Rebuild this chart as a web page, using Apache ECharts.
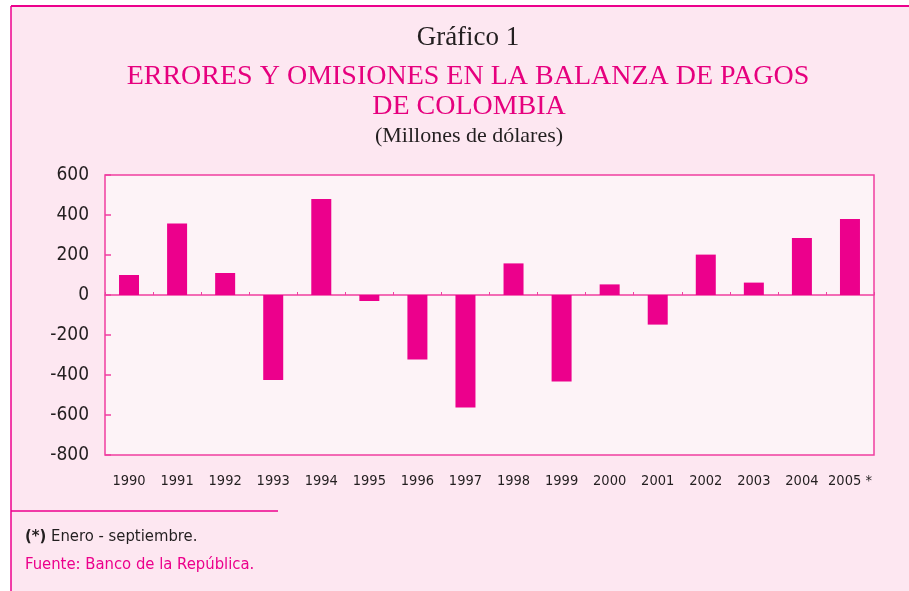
<!DOCTYPE html>
<html lang="es">
<head>
    <meta charset="UTF-8">
    <title>Errores y omisiones</title>
    <script src="https://cdn.jsdelivr.net/npm/echarts@6/dist/echarts.min.js"></script>
    <style>
        html, body { margin: 0; padding: 0; background: #ffffff; }
        #main { width: 909px; height: 591px; }
    </style>
</head>
<body>
<div id="main"></div>
<script>
    // datos del gráfico
    var years = ['1990', '1991', '1992', '1993', '1994', '1995', '1996', '1997',
                 '1998', '1999', '2000', '2001', '2002', '2003', '2004', '2005 *'];
    var values = [100, 358, 110, -425, 480, -30, -323, -563,
                  158, -432, 53, -148, 202, 62, 285, 380];
    var yMin = -800, yMax = 600, yStep = 200;

    var pink = '#ec008c';
    var lineColor = '#ef3fa0';
    var narrow = '"Liberation Sans Narrow", "DejaVu Sans Condensed", sans-serif';
    var serif = '"Liberation Serif", "DejaVu Serif", serif';

    var myChart = echarts.init(document.getElementById('main'));

    var option = {
        animation: false,
        backgroundColor: '#ffffff',
        graphic: [
            // fondo del recuadro
            { type: 'rect', z: -10, shape: { x: 11, y: 6, width: 898, height: 585 }, style: { fill: '#fde7f1' } },
            { type: 'line', z: -9, shape: { x1: 11, y1: 6, x2: 909, y2: 6 }, style: { stroke: pink, lineWidth: 2 } },
            { type: 'line', z: -9, shape: { x1: 11, y1: 6, x2: 11, y2: 591 }, style: { stroke: pink, lineWidth: 1.5 } },
            { type: 'line', z: -9, shape: { x1: 11, y1: 511, x2: 278, y2: 511 }, style: { stroke: pink, lineWidth: 1.5 } },
            // títulos
            { type: 'text', x: 468, y: 38, style: { text: 'Gráfico 1', font: '27px ' + serif, fill: '#231f20', align: 'center', verticalAlign: 'middle' } },
            { type: 'text', x: 468, y: 77, style: { text: 'ERRORES Y OMISIONES EN LA BALANZA DE PAGOS', font: '28px ' + serif, fill: '#e6007e', align: 'center', verticalAlign: 'middle' } },
            { type: 'text', x: 469, y: 107, style: { text: 'DE COLOMBIA', font: '28px ' + serif, fill: '#e6007e', align: 'center', verticalAlign: 'middle' } },
            { type: 'text', x: 469, y: 136, style: { text: '(Millones de dólares)', font: '22px ' + serif, fill: '#231f20', align: 'center', verticalAlign: 'middle' } },
            // notas
            {
                type: 'text', x: 25, y: 537,
                style: {
                    text: '{b|(*)} Enero - septiembre.',
                    font: '16.5px ' + narrow, fill: '#231f20', verticalAlign: 'middle',
                    rich: { b: { fontWeight: 'bold', fontSize: 16.5, fontFamily: narrow, fill: '#231f20' } }
                }
            },
            { type: 'text', x: 25, y: 565, style: { text: 'Fuente: Banco de la República.', font: '16.5px ' + narrow, fill: pink, verticalAlign: 'middle' } }
        ],
        grid: {
            left: 105,
            top: 175,
            right: 35,
            bottom: 136,
            show: true,
            backgroundColor: '#fdf3f7',
            borderColor: lineColor,
            borderWidth: 1.5
        },
        xAxis: [
            {
                type: 'category',
                data: years,
                position: 'bottom',
                axisLine: { show: false, onZero: false },
                axisTick: { show: false },
                axisLabel: { color: '#231f20', fontFamily: narrow, fontSize: 14.5, margin: 19, interval: 0 }
            },
            {
                type: 'category',
                data: years,
                position: 'bottom',
                axisLine: { show: true, onZero: true, lineStyle: { color: lineColor, width: 1.5 } },
                axisTick: { show: true, inside: true, length: 3, lineStyle: { color: lineColor, width: 1 } },
                axisLabel: { show: false }
            }
        ],
        yAxis: {
            type: 'value',
            min: yMin,
            max: yMax,
            interval: yStep,
            axisLine: { show: false },
            axisTick: { show: true, inside: true, length: 6, lineStyle: { color: lineColor, width: 1.5 } },
            splitLine: { show: false },
            axisLabel: { color: '#231f20', fontFamily: narrow, fontSize: 19, margin: 16 }
        },
        series: [{
            name: 'Errores y omisiones',
            type: 'bar',
            xAxisIndex: 0,
            data: values,
            barWidth: 20,
            itemStyle: { color: pink },
            z: 1
        }]
    };

    myChart.setOption(option);
</script>
</body>
</html>
